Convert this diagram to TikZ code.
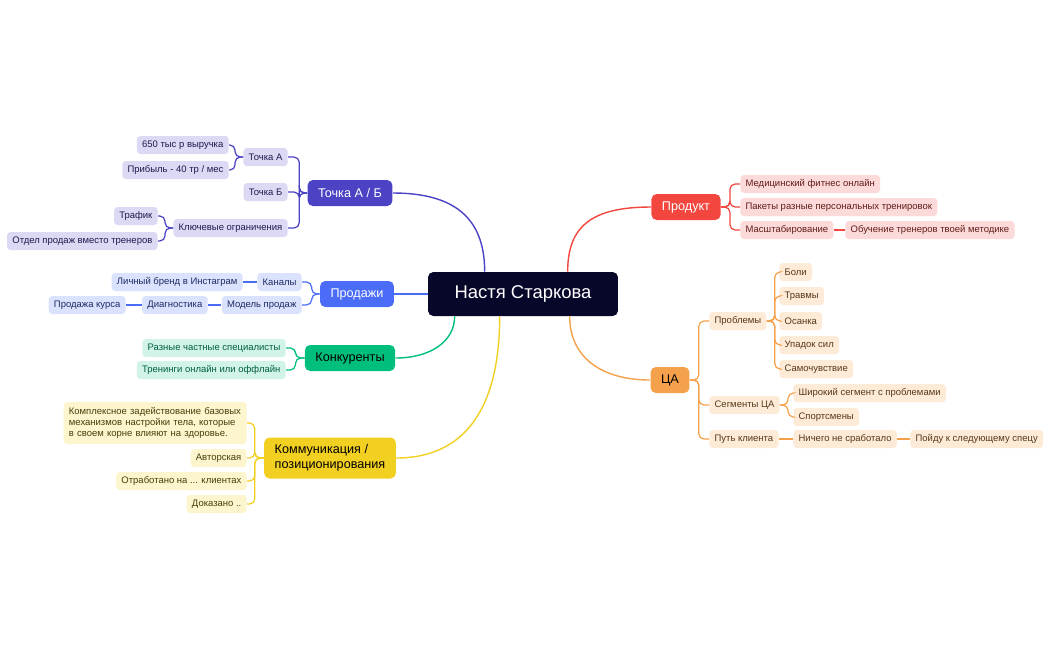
\documentclass[tikz,border=0pt]{standalone}
\usepackage{fontspec}
\setmainfont{Liberation Sans}
\usepackage{tikz}
\usetikzlibrary{calc,positioning}
\definecolor{root}{HTML}{07072A}
\definecolor{t}{HTML}{4B43C4}
\definecolor{p}{HTML}{4A6CF7}
\definecolor{k}{HTML}{00BF7D}
\definecolor{c}{HTML}{F2D022}
\definecolor{r}{HTML}{F2463F}
\definecolor{o}{HTML}{F5A04A}
\tikzset{
  leaf/.style={rounded corners=2pt, font=\fontsize{5.4}{6.4}\selectfont, minimum height=0.36cm, inner xsep=3pt, inner ysep=1pt},
  main/.style={rounded corners=3pt, font=\fontsize{7.2}{8.6}\selectfont, minimum height=0.52cm, inner xsep=6pt, text=white},
  tl/.style={leaf, fill=t!20, text=t!40!black},
  pl/.style={leaf, fill=p!20, text=p!40!black},
  kl/.style={leaf, fill=k!18, text=k!50!black},
  cl/.style={leaf, fill=c!22, text=c!30!black},
  rl/.style={leaf, fill=r!20, text=r!40!black},
  ol/.style={leaf, fill=o!22, text=o!35!black},
  br/.style={line width=0.7pt, rounded corners=3pt},
}
\begin{document}
\begin{tikzpicture}[x=0.02cm, y=-0.02cm]
\useasboundingbox (0,0) rectangle (1050,650);
% centre and main branches
\node[rounded corners=3pt, fill=root, text=white, font=\fontsize{10.5}{12}\selectfont, minimum width=3.8cm, minimum height=0.88cm] (root) at (523,294) {Настя Старкова};
\node[main, fill=t] (toch) at (350,193) {Точка А / Б};
\node[main, fill=p] (prod) at (357,294) {Продажи};
\node[main, fill=k, text=black] (konk) at (350,358) {Конкуренты};
\node[main, fill=c, text=black, align=left, minimum height=0.82cm] (komm) at (330,458) {Коммуникация /\\позиционирования};
\node[main, fill=r] (produkt) at (686,207) {Продукт};
\node[main, fill=o, text=black] (ca) at (670,380) {ЦА};

\draw[t, line width=0.8pt] ($(root.north west)+(57,0)$) .. controls +(0,-55) and +(60,0) .. (toch.east);
\draw[p, line width=0.8pt] (root.west) -- (prod.east);
\draw[k, line width=0.8pt] ($(root.south west)+(27,0)$) .. controls +(0,25) and +(35,0) .. (konk.east);
\draw[c, line width=0.8pt] ($(root.south west)+(72,0)$) .. controls +(0,90) and +(70,0) .. (komm.east);
\draw[r, line width=0.8pt] ($(root.north west)+(140,0)$) .. controls +(0,-45) and +(-60,0) .. (produkt.west);
\draw[o, line width=0.8pt] ($(root.south west)+(142,0)$) .. controls +(0,40) and +(-50,0) .. (ca.west);

% Точка А / Б
\node[tl, anchor=east] (ta) at (288,157) {Точка А};
\node[tl, anchor=east] (tb) at (288,192) {Точка Б};
\node[tl, anchor=east] (tk) at (288,228) {Ключевые ограничения};
\node[tl, anchor=east] (ta1) at (229,145) {650 тыс р выручка};
\node[tl, anchor=east] (ta2) at (229,170) {Прибыль - 40 тр / мес};
\node[tl, anchor=east] (tk1) at (158,216) {Трафик};
\node[tl, anchor=east] (tk2) at (158,241) {Отдел продаж вместо тренеров};
\foreach \n in {ta,tb,tk} \draw[br, t] (toch.west) -- ++(-8,0) |- (\n.east);
\foreach \n in {ta1,ta2} \draw[br, t] (ta.west) -- ++(-8,0) |- (\n.east);
\foreach \n in {tk1,tk2} \draw[br, t] (tk.west) -- ++(-8,0) |- (\n.east);

% Продажи
\node[pl, anchor=east] (pk) at (302,282) {Каналы};
\node[pl, anchor=east] (pm) at (302,305) {Модель продаж};
\node[pl, anchor=east] (pk1) at (243,282) {Личный бренд в Инстаграм};
\node[pl, anchor=east] (pd) at (208,305) {Диагностика};
\node[pl, anchor=east] (pd1) at (126,305) {Продажа курса};
\foreach \n in {pk,pm} \draw[br, p] (prod.west) -- ++(-8,0) |- (\n.east);
\draw[br, p] (pk.west) -- (pk1.east);
\draw[br, p] (pm.west) -- (pd.east);
\draw[br, p] (pd.west) -- (pd1.east);

% Конкуренты
\node[kl, anchor=east] (k1) at (286,348) {Разные частные специалисты};
\node[kl, anchor=east] (k2) at (286,370) {Тренинги онлайн или оффлайн};
\foreach \n in {k1,k2} \draw[br, k] (konk.west) -- ++(-9,0) |- (\n.east);

% Коммуникация
\node[cl, anchor=east, text width=3.45cm, align=left, inner ysep=3pt] (c1) at (247,423) {Комплексное задействование базовых механизмов настройки тела, которые в своем корне влияют на здоровье.};
\node[cl, anchor=east] (c2) at (247,458) {Авторская};
\node[cl, anchor=east] (c3) at (247,481) {Отработано на ... клиентах};
\node[cl, anchor=east] (c4) at (247,504) {Доказано ..};
\foreach \n in {c1,c2,c3,c4} \draw[br, c] (komm.west) -- ++(-9,0) |- (\n.east);

% Продукт
\node[rl, anchor=west] (r1) at (740,184) {Медицинский фитнес онлайн};
\node[rl, anchor=west] (r2) at (740,207) {Пакеты разные персональных тренировок};
\node[rl, anchor=west] (r3) at (740,230) {Масштабирование};
\node[rl, anchor=west] (r31) at (845,230) {Обучение тренеров твоей методике};
\foreach \n in {r1,r2,r3} \draw[br, r] (produkt.east) -- ++(9,0) |- (\n.west);
\draw[br, r] (r3.east) -- (r31.west);

% ЦА
\node[ol, anchor=west] (o1) at (709,321) {Проблемы};
\node[ol, anchor=west] (o2) at (709,405) {Сегменты ЦА};
\node[ol, anchor=west] (o3) at (709,439) {Путь клиента};
\foreach \n in {o1,o2,o3} \draw[br, o] (ca.east) -- ++(9,0) |- (\n.west);
\node[ol, anchor=west] (o11) at (779,272) {Боли};
\node[ol, anchor=west] (o12) at (779,296) {Травмы};
\node[ol, anchor=west] (o13) at (779,321) {Осанка};
\node[ol, anchor=west] (o14) at (779,345) {Упадок сил};
\node[ol, anchor=west] (o15) at (779,369) {Самочувствие};
\foreach \n in {o11,o12,o13,o14,o15} \draw[br, o] (o1.east) -- ++(8,0) |- (\n.west);
\node[ol, anchor=west] (o21) at (793,393) {Широкий сегмент с проблемами};
\node[ol, anchor=west] (o22) at (793,417) {Спортсмены};
\foreach \n in {o21,o22} \draw[br, o] (o2.east) -- ++(8,0) |- (\n.west);
\node[ol, anchor=west] (o31) at (793,439) {Ничего не сработало};
\node[ol, anchor=west] (o32) at (910,439) {Пойду к следующему спецу};
\draw[br, o] (o3.east) -- (o31.west);
\draw[br, o] (o31.east) -- (o32.west);
\end{tikzpicture}
\end{document}
